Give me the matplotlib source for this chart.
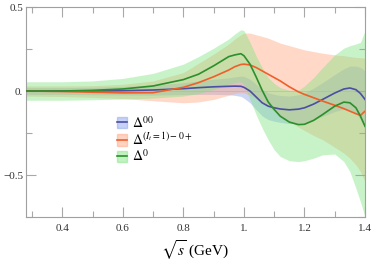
import numpy as np
import matplotlib
matplotlib.use('Agg')
import matplotlib.pyplot as plt
from matplotlib.patches import Patch
from matplotlib.lines import Line2D
from matplotlib.ticker import MultipleLocator

plt.rcParams['font.family'] = ['Liberation Serif', 'DejaVu Serif']
plt.rcParams['mathtext.fontset'] = 'stix'

# sqrt(s) in GeV
x = [0.28, 0.4, 0.5, 0.6, 0.7, 0.8, 0.85, 0.9, 0.95, 0.97, 0.99, 1.0, 1.02, 1.04,
     1.06, 1.08, 1.1, 1.12, 1.15, 1.18, 1.2, 1.23, 1.26, 1.3, 1.33, 1.35, 1.37,
     1.385, 1.4]

# Delta^00
d00 = [0.0, 0.0, 0.0, 0.002, 0.006, 0.014, 0.02, 0.025, 0.028, 0.029, 0.028, 0.022,
       0.0, -0.035, -0.07, -0.09, -0.1, -0.107, -0.112, -0.108, -0.1, -0.078, -0.05,
       -0.012, 0.012, 0.018, 0.008, -0.015, -0.05]
d00_lo = [-0.02, -0.02, -0.022, -0.023, -0.024, -0.021, -0.02, -0.02, -0.022, -0.026,
          -0.032, -0.043, -0.07, -0.11, -0.148, -0.17, -0.18, -0.187, -0.194, -0.193,
          -0.188, -0.173, -0.15, -0.122, -0.108, -0.112, -0.132, -0.17, -0.22]
d00_hi = [0.02, 0.02, 0.022, 0.027, 0.036, 0.049, 0.06, 0.07, 0.078, 0.084, 0.088,
          0.087, 0.07, 0.04, 0.008, -0.01, -0.02, -0.027, -0.03, -0.023, -0.012, 0.017,
          0.05, 0.098, 0.132, 0.148, 0.148, 0.14, 0.12]

# Delta^(I_t=1)-0+
dit = [0.0, -0.003, -0.007, -0.011, -0.01, 0.022, 0.05, 0.085, 0.125, 0.145, 0.158,
       0.16, 0.155, 0.14, 0.12, 0.1, 0.08, 0.06, 0.025, -0.005, -0.02, -0.04, -0.06,
       -0.085, -0.105, -0.12, -0.135, -0.145, -0.12]
dit_lo = [-0.03, -0.033, -0.038, -0.045, -0.058, -0.07, -0.065, -0.05, -0.025, -0.015,
          -0.01, -0.012, -0.025, -0.045, -0.07, -0.095, -0.12, -0.145, -0.18, -0.215,
          -0.235, -0.265, -0.29, -0.335, -0.37, -0.4, -0.44, -0.48, -0.54]
dit_hi = [0.03, 0.03, 0.032, 0.04, 0.06, 0.11, 0.165, 0.22, 0.28, 0.31, 0.335, 0.345,
          0.345, 0.335, 0.325, 0.315, 0.3, 0.285, 0.27, 0.255, 0.245, 0.235, 0.225,
          0.215, 0.21, 0.205, 0.2, 0.198, 0.196]

# Delta^0
d0 = [0.0, 0.0, 0.004, 0.012, 0.03, 0.068, 0.1, 0.15, 0.205, 0.215, 0.222, 0.21, 0.16,
      0.085, 0.005, -0.065, -0.11, -0.15, -0.185, -0.2, -0.198, -0.175, -0.14, -0.09,
      -0.066, -0.07, -0.1, -0.15, -0.21]
d0_lo = [-0.055, -0.055, -0.052, -0.048, -0.042, -0.03, -0.015, 0.01, 0.04, 0.05, 0.055,
         0.04, -0.05, -0.14, -0.22, -0.29, -0.35, -0.39, -0.415, -0.42, -0.415, -0.4,
         -0.38, -0.375, -0.42, -0.48, -0.58, -0.66, -0.75]
d0_hi = [0.055, 0.055, 0.06, 0.075, 0.105, 0.16, 0.205, 0.255, 0.31, 0.34, 0.365, 0.36,
         0.29, 0.21, 0.14, 0.08, 0.045, 0.02, 0.005, 0.005, 0.03, 0.08, 0.14, 0.215,
         0.255, 0.27, 0.28, 0.29, 0.36]

labels = [r'$\Delta^{00}$', r'$\Delta^{(I_t=1)-0+}$', r'$\Delta^{0}$']

fig = plt.figure(figsize=(3.74, 2.61), dpi=100)
ax = fig.add_axes([0.0695, 0.1686, 0.9065, 0.8045])

ax.axhline(0, color='#c8c8c8', lw=0.6, zorder=0.5)

series = [
    (d00, d00_lo, d00_hi, '#4b4ea3', '#8da4ee', 0.45),
    (dit, dit_lo, dit_hi, '#ef5f2a', '#ffa27c', 0.42),
    (d0, d0_lo, d0_hi, '#2b8f2b', '#7ee47e', 0.42),
]
for y, lo, hi, lc, fc, a in series:
    ax.fill_between(x, lo, hi, color=fc, alpha=a, lw=0, zorder=1)
for y, lo, hi, lc, fc, a in series:
    ax.plot(x, y, color=lc, lw=1.2, zorder=3)

ax.set_xlim(0.28, 1.4)
ax.set_ylim(-0.75, 0.5)

ax.set_xticks([0.4, 0.6, 0.8, 1.0, 1.2, 1.4], ['0.4', '0.6', '0.8', '1.', '1.2', '1.4'])
ax.set_yticks([-0.5, 0.0, 0.5], ['\u22120.5', '0.', '0.5'])
ax.xaxis.set_minor_locator(MultipleLocator(0.1))
ax.yaxis.set_minor_locator(MultipleLocator(0.25))
ax.tick_params(which='both', direction='in', top=True, right=True,
               color='#a8a8a8', width=0.8, labelcolor='#333333', labelsize=8)
ax.tick_params(which='major', length=7.5)
ax.tick_params(which='minor', length=4)
ax.tick_params(axis='x', pad=5)
ax.tick_params(axis='y', pad=2)
for s in ax.spines.values():
    s.set_color('#a0a0a0')
    s.set_linewidth(0.8)

ax.set_xlabel(r'$\sqrt{s}$ (GeV)', fontsize=11, labelpad=4)

handles = []
for y, lo, hi, lc, fc, a in series:
    handles.append((Patch(facecolor=fc, alpha=a + 0.05, edgecolor=fc),
                    Line2D([], [], color=lc, lw=1.2)))
ax.legend(handles, labels, loc='upper left', bbox_to_anchor=(0.313, 0.56),
          bbox_transform=fig.transFigure, frameon=False, fontsize=10,
          handlelength=0.75, handleheight=0.85, handletextpad=0.35,
          labelspacing=0.05, borderpad=0, borderaxespad=0)

fig.savefig('out.png', dpi=100)
